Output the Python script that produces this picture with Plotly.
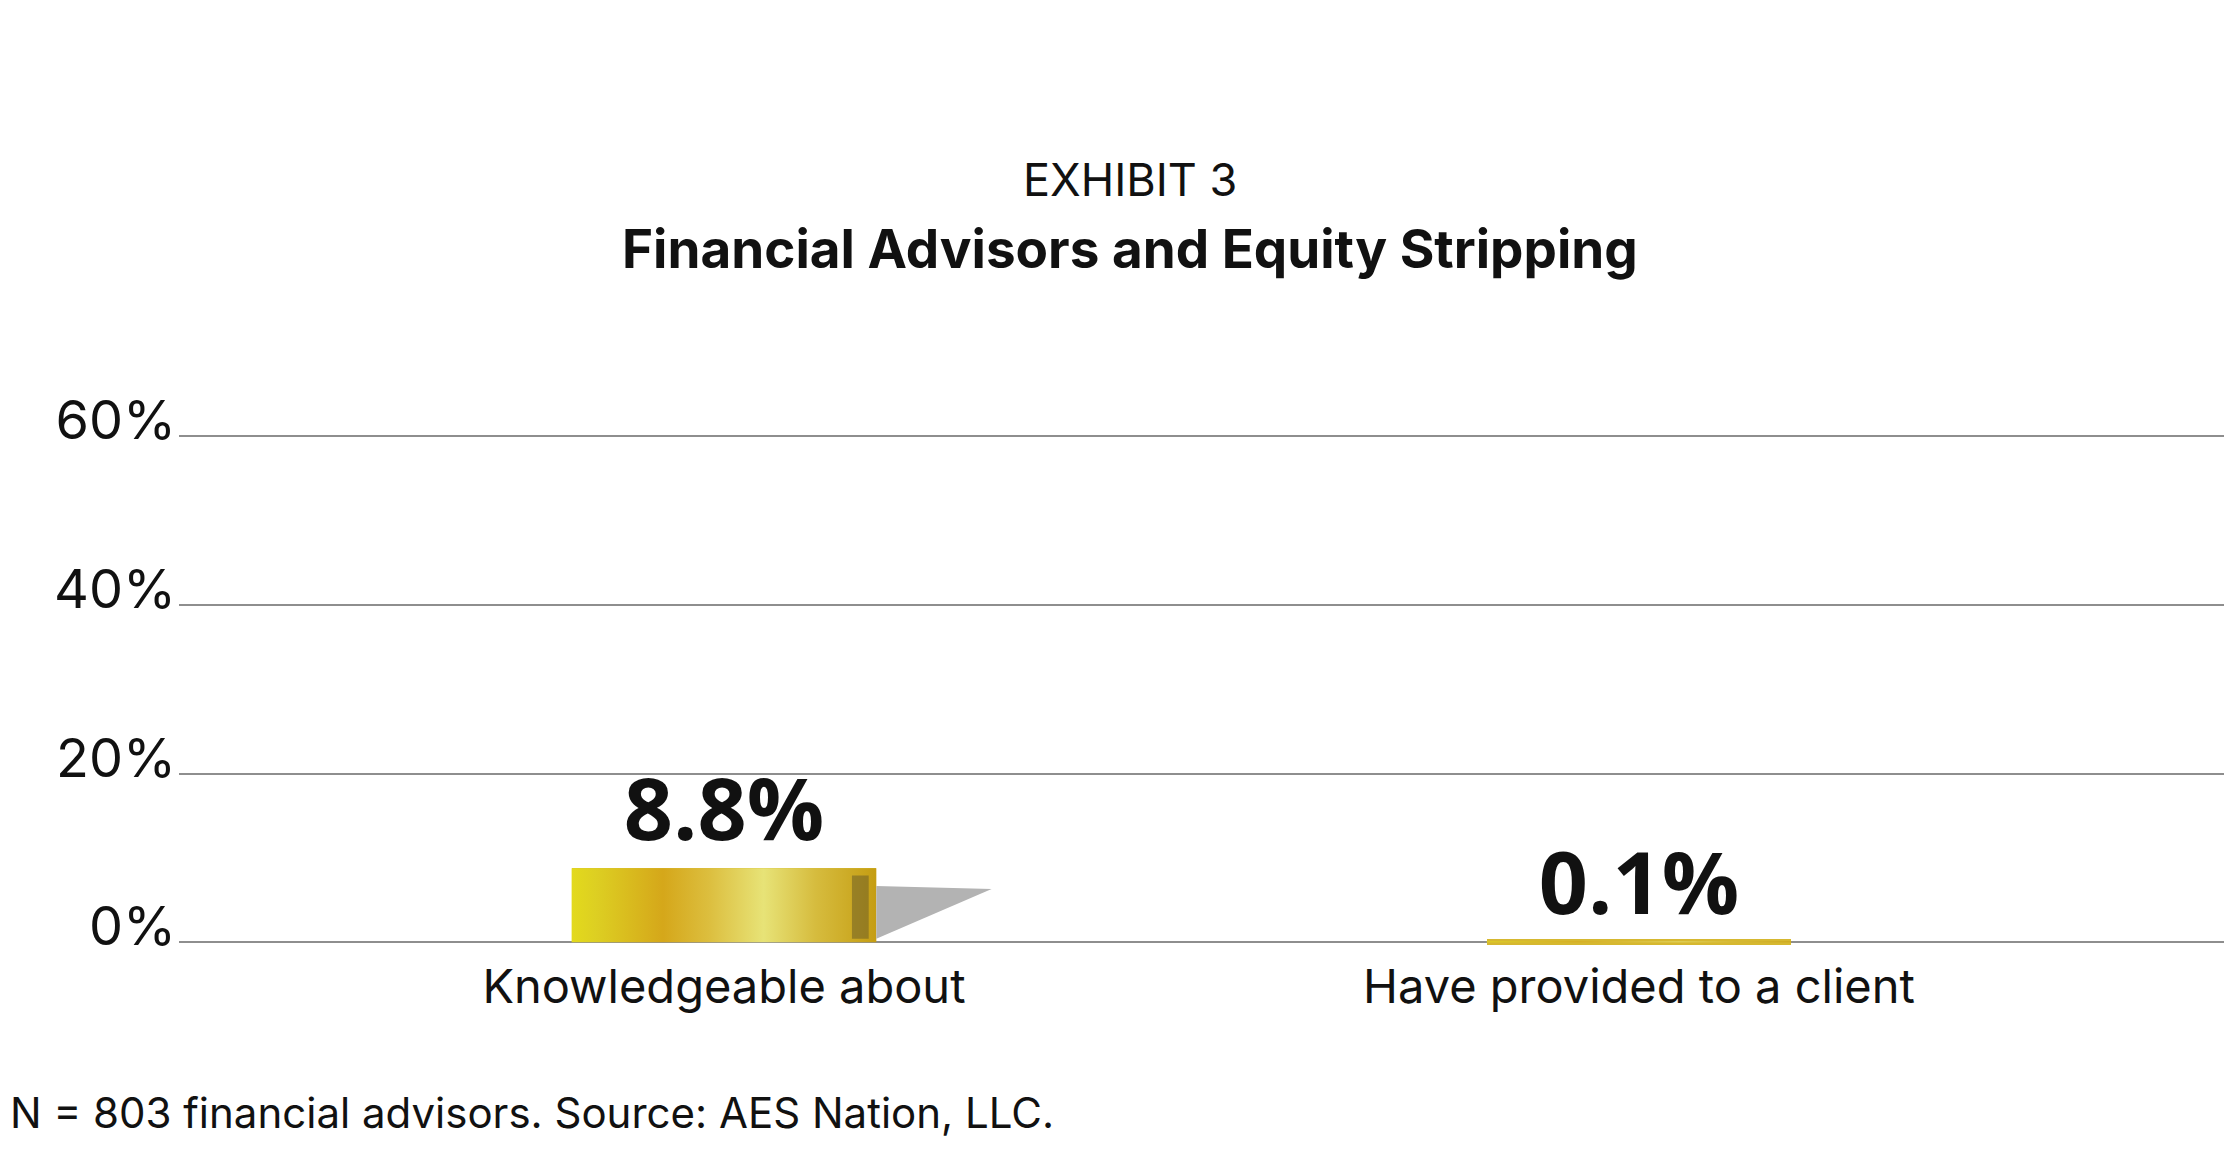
import plotly.graph_objects as go

# ---- data ----
categories = ["Knowledgeable about", "Have provided to a client"]
values = [8.8, 0.1]
value_labels = ["8.8%", "0.1%"]
y_ticks = [0, 20, 40, 60]
y_tick_labels = ["0%", "20%", "40%", "60%"]
title_top = "EXHIBIT 3"
title_main = "Financial Advisors and Equity Stripping"
footnote = "N = 803 financial advisors. Source: AES Nation, LLC."

# ---- layout geometry ----
W, H = 2232, 1166
ML, MR, MT, MB = 171, 8, 420, 219
PW, PH = W - ML - MR, H - MT - MB
XR = [-0.5956, 1.6481]
YR = [-1.5, 61]
BAR_W = 0.333

def px_to_paper_x(p):
    return (p - ML) / PW

def px_to_paper_y(p):
    return (H - MB - p) / PH

FONT = "Inter"
gold_scale = [
    [0.0, "#E3DA1C"], [0.08, "#DDCF22"], [0.30, "#D5A71A"],
    [0.45, "#DCBE3E"], [0.63, "#E7E377"], [0.80, "#D6BC3E"],
    [1.0, "#C59D12"],
]

fig = go.Figure()

# base bars (carry values and labels)
fig.add_trace(go.Bar(
    x=list(range(len(categories))), y=values, width=BAR_W,
    marker=dict(color="#D8BE34", line=dict(color="#D6B830", width=[0, 6])),
    text=value_labels, textposition="outside", cliponaxis=False,
    textfont=dict(family="Open Sans", size=86, color="#111111", weight="bold"),
    hoverinfo="skip", showlegend=False,
))

# gradient overlay and 3-D decorations drawn from the same values
for i, v in enumerate(values):
    x0, x1 = i - BAR_W / 2, i + BAR_W / 2
    fig.add_trace(go.Scatter(
        x=[x0, x1, x1, x0, x0], y=[0, 0, v, v, 0], mode="lines",
        fill="toself", line=dict(width=0),
        fillgradient=dict(type="horizontal", colorscale=gold_scale),
        hoverinfo="skip", showlegend=False,
    ))
    if v > 1:
        # shadow wedge
        fig.add_trace(go.Scatter(
            x=[x1, x1 + 0.126, x1, x1], y=[0.76 * v, 0.72 * v, 0.05 * v, 0.76 * v],
            mode="lines", fill="toself", fillcolor="#B3B3B3", line=dict(width=0),
            hoverinfo="skip", showlegend=False,
        ))
        # dark edge strip
        sx0, sx1 = x0 + 0.92 * BAR_W, x0 + 0.975 * BAR_W
        fig.add_trace(go.Scatter(
            x=[sx0, sx1, sx1, sx0, sx0], y=[0.05 * v, 0.05 * v, 0.9 * v, 0.9 * v, 0.05 * v],
            mode="lines", fill="toself", fillcolor="rgba(110,95,40,0.55)", line=dict(width=0),
            hoverinfo="skip", showlegend=False,
        ))

fig.update_layout(
    width=W, height=H,
    margin=dict(l=ML, r=MR, t=MT, b=MB, pad=0),
    plot_bgcolor="white", paper_bgcolor="white",
    font=dict(family=FONT, color="#111111"),
    bargap=0,
    xaxis=dict(
        range=XR, tickmode="array", tickvals=list(range(len(categories))),
        ticktext=categories, showgrid=False, zeroline=False, showline=False,
        ticks="", tickfont=dict(family=FONT, size=47, color="#111111"),
        ticklabelstandoff=0,
    ),
    yaxis=dict(
        range=YR, tickmode="array", tickvals=y_ticks, ticktext=y_tick_labels,
        showgrid=True, gridcolor="#8E8E8E", gridwidth=2,
        zeroline=True, zerolinecolor="#8E8E8E", zerolinewidth=2,
        showline=False, ticks="", ticklabelposition="outside",
        ticklabelshift=-16,
        tickfont=dict(family=FONT, size=54, color="#111111"),
        ticklabelstandoff=2,
    ),
    annotations=[
        dict(text=title_top, xref="paper", yref="paper",
             x=px_to_paper_x(1122), y=px_to_paper_y(172),
             xanchor="center", yanchor="middle", showarrow=False,
             font=dict(family=FONT, size=45, color="#111111")),
        dict(text=title_main, xref="paper", yref="paper",
             x=px_to_paper_x(1122), y=px_to_paper_y(241),
             xanchor="center", yanchor="middle", showarrow=False,
             font=dict(family=FONT, size=53, color="#111111", weight="bold")),
        dict(text=footnote, xref="paper", yref="paper",
             x=px_to_paper_x(0), y=px_to_paper_y(1104),
             xanchor="left", yanchor="middle", showarrow=False,
             font=dict(family=FONT, size=42, color="#111111")),
    ],
)

fig.write_html("out.html")
